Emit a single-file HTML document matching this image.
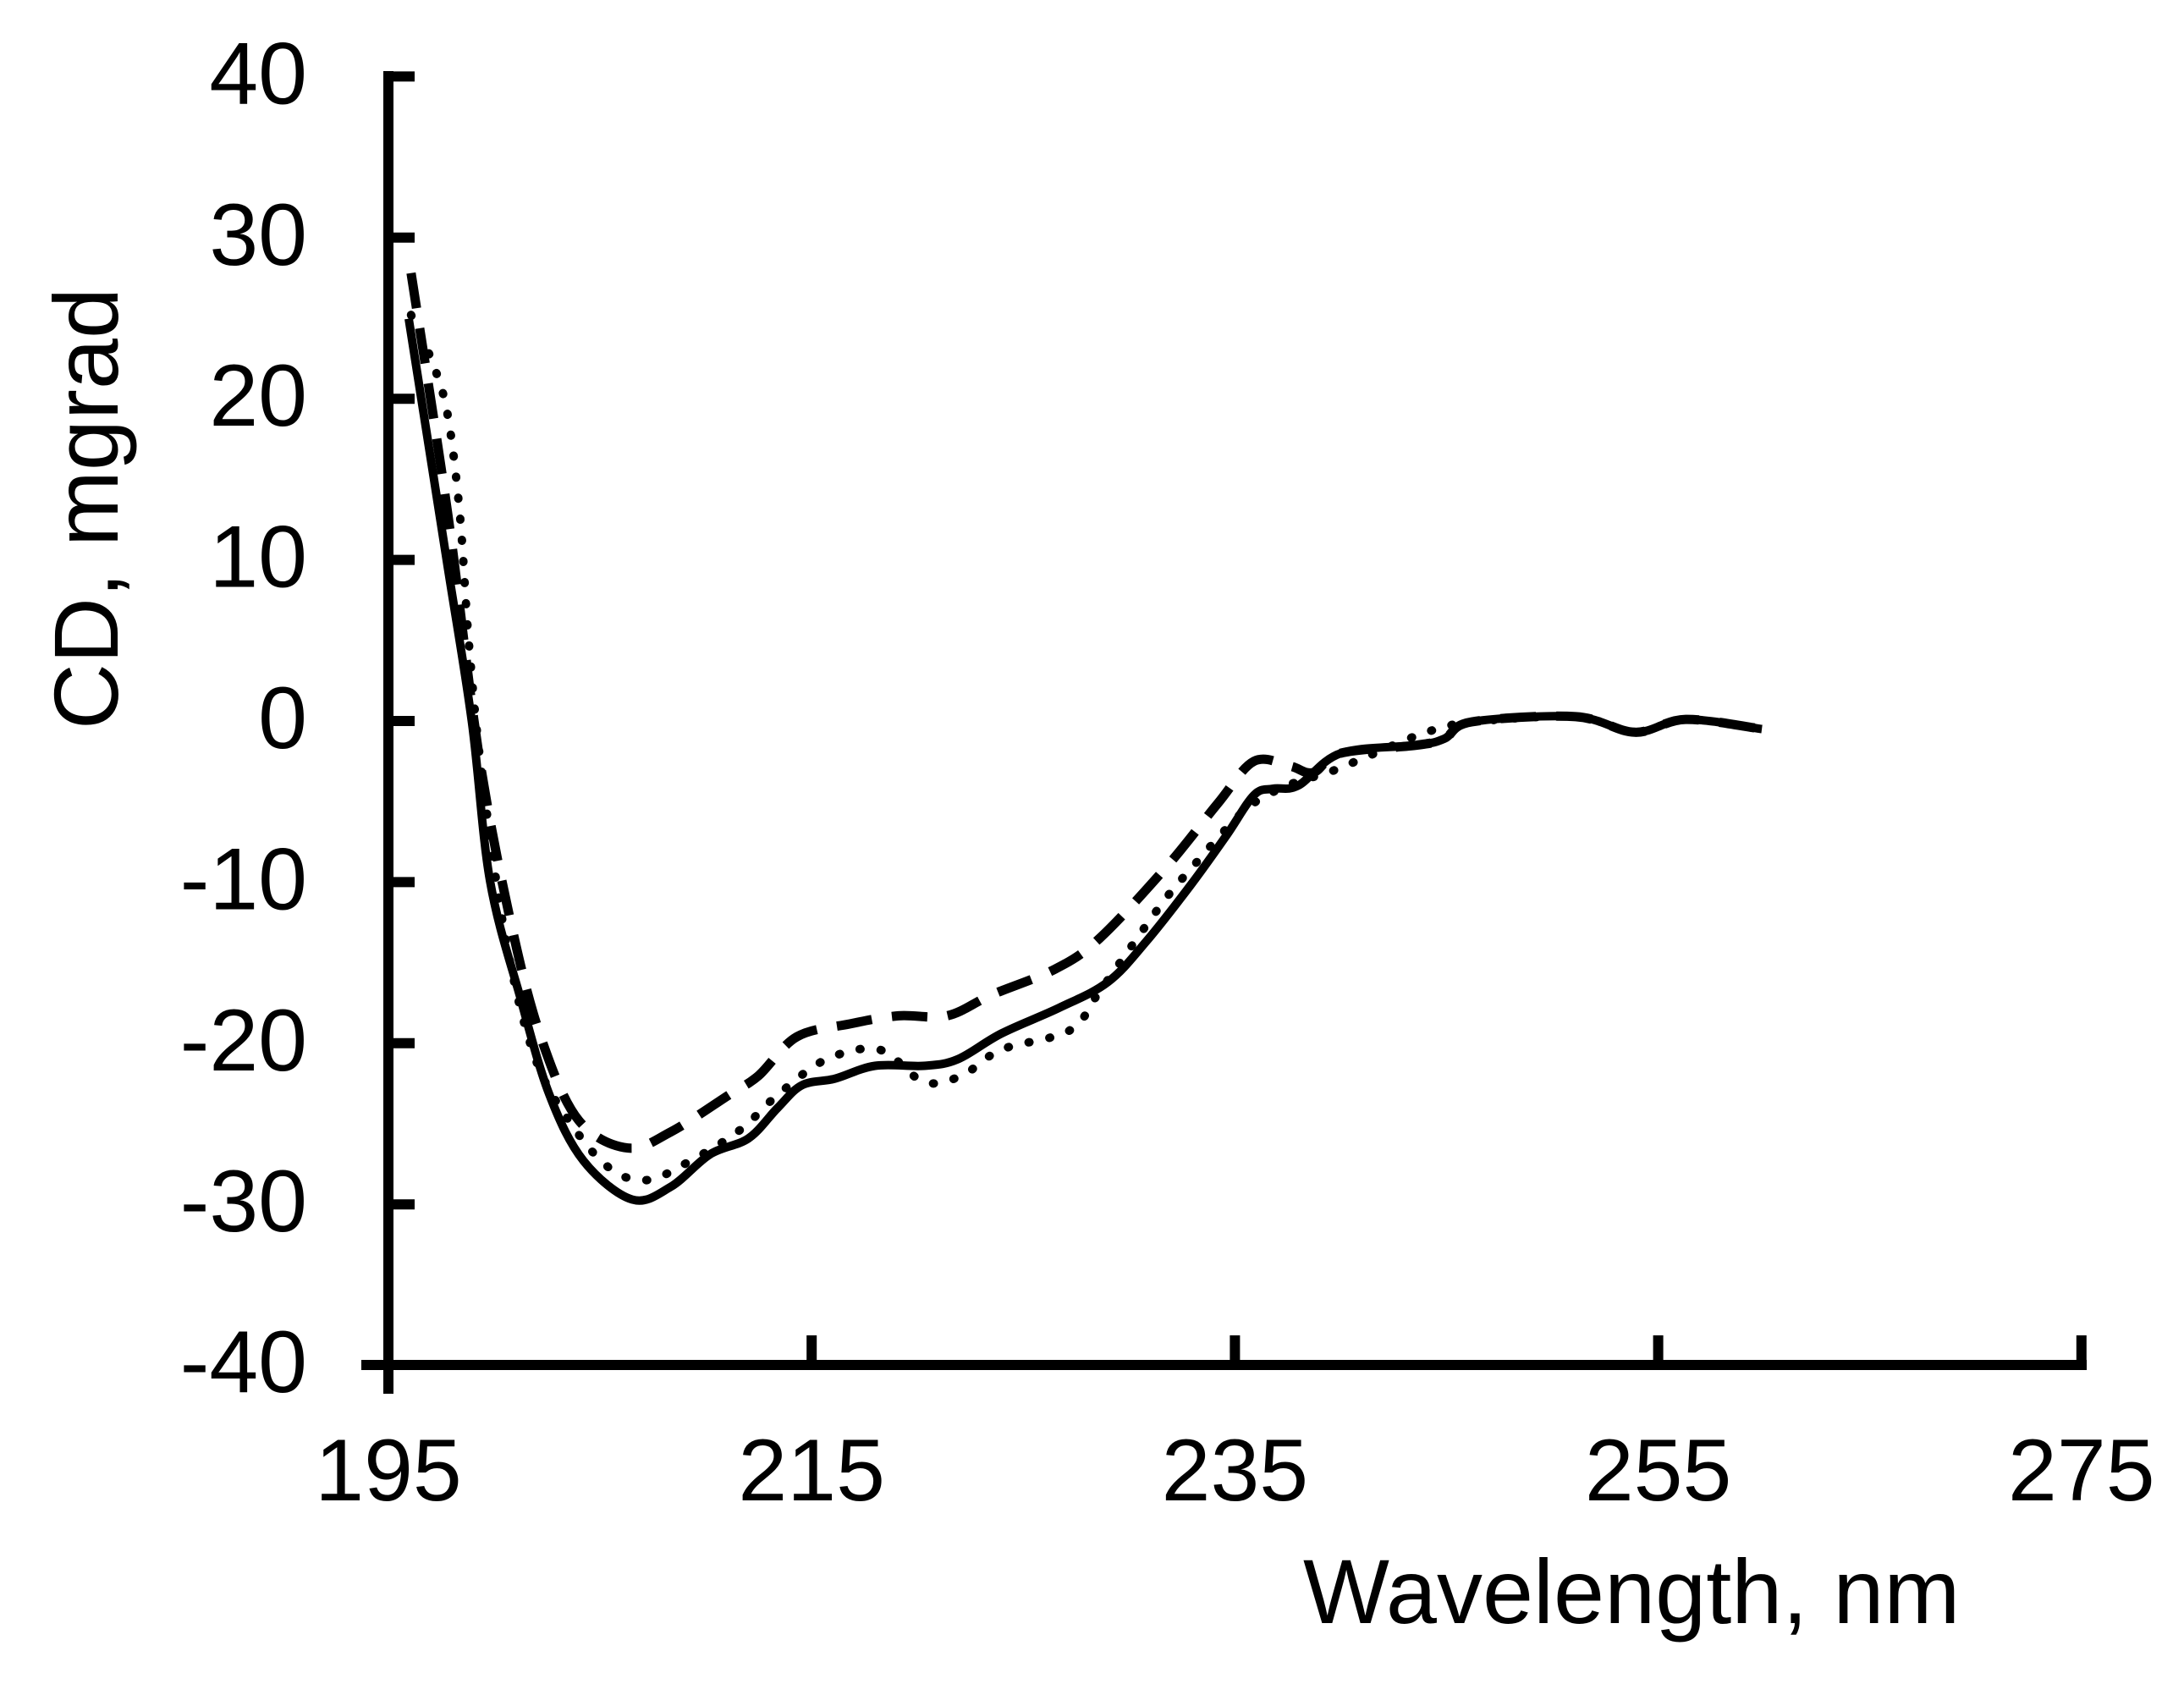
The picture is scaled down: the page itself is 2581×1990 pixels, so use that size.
<!DOCTYPE html>
<html><head><meta charset="utf-8"><style>
html,body{margin:0;padding:0;background:#fff;}
svg{display:block;}
text{font-family:"Liberation Sans",Arial,sans-serif;fill:#000;}
</style></head><body>
<svg id="chart" width="2581" height="1990" viewBox="0 0 2581 1990" xmlns="http://www.w3.org/2000/svg">
<rect width="2581" height="1990" fill="#fff"/>
<g id="axes"></g>
<g id="series"></g>
<text x="1540" y="1918" font-size="108">Wavelength, nm</text>
<text transform="translate(139,601) rotate(-90)" text-anchor="middle" font-size="108">CD, mgrad</text>
</svg>
<script>
const xTicks = [195, 215, 235, 255, 275];
const yTicks = [40, 30, 20, 10, 0, -10, -20, -30, -40];
const solidX = [195.96,197.75,198.94,199.8,201.24,202.61,204.22,206.52,208.35,210.19,212.02,213.4,214.55,216.1,217.99,220.3,221.9,223.96,226.7,229.0,230.8,232.9,234.6,235.9,236.8,238.0,240.0,243.6,244.9,246.2,251.1,253.9,256.3,259.9];
const solidY = [24.97,10.0,0,-9.9,-17.2,-23.2,-27.3,-29.7,-28.9,-26.9,-25.9,-24.0,-22.6,-22.2,-21.4,-21.4,-21.0,-19.4,-17.8,-16.2,-13.7,-10.2,-7.1,-4.6,-4.2,-4.0,-2.0,-1.5,-1.1,-0.05,0.27,-0.7,0.1,-0.5];
const dashX = [196.07,197.8,199.3,200.9,202.3,204.0,206.3,208.35,211.1,212.5,214.3,216.8,219.1,221.4,223.5,226.5,228.6,231.8,234.2,235.9,237.6,238.7,240.0,243.6,244.9,246.2,251.1,253.9,256.3,259.9];
const dashY = [27.8,12.9,-2.3,-13.2,-20.0,-24.8,-26.5,-25.5,-23.2,-22.0,-19.6,-18.8,-18.3,-18.3,-17.0,-15.4,-13.5,-9.0,-5.1,-2.5,-2.8,-3.2,-2.0,-1.5,-1.1,-0.05,0.27,-0.7,0.1,-0.5];
const dotX = [196.07,197.1,197.8,198.37,198.8,199.4,200.55,201.9,203.53,205.4,207.2,209.27,211.6,213.4,215.7,218.2,220.3,222.1,223.96,227.2,228.6,231.4,232.9,235.5,237.5,239.4,240.9,243.6,244.9,246.2,251.1,253.9,256.3,259.9];
const dotY = [25.2,22.2,19.0,12.9,4.9,-3.1,-13.6,-20.8,-24.8,-27.7,-28.5,-27.3,-25.4,-23.2,-21.0,-20.4,-22.4,-22.0,-20.4,-19.2,-16.8,-11.6,-9.2,-5.5,-4.0,-3.2,-2.4,-0.9,-0.4,-0.05,0.27,-0.7,0.1,-0.5];

const NS = "http://www.w3.org/2000/svg";
function sx(v){ return 459 + (v - 195) * 25.01; }
function sy(v){ return 852 - v * 19.04; }
function mk(tag, attrs, parent){
  const e = document.createElementNS(NS, tag);
  for (const k in attrs) e.setAttribute(k, attrs[k]);
  parent.appendChild(e);
  return e;
}
const axes = document.getElementById('axes');
const ser = document.getElementById('series');

const yAxis = mk('line', {x1:459, y1:84, x2:459, y2:1647, stroke:'#000', 'stroke-width':12}, axes);


const xAxis = mk('line', {x1:427, y1:1613, x2:2466, y2:1613, stroke:'#000', 'stroke-width':12}, axes);



yTicks.forEach(v => {
  const y = sy(v);
  if (v > -40) {
    const t = mk('line', {x1:453, y1:y, x2:490, y2:y, stroke:'#000', 'stroke-width':12}, axes);
    
    
  }
  const lb = mk('text', {x:363, y:Math.min(y, 1613) + 32, 'text-anchor':'end', 'font-size':104}, axes);
  lb.textContent = String(v);
  
  
});
xTicks.forEach(v => {
  const x = sx(v);
  if (v > 195) {
    const t = mk('line', {x1:x, y1:1578, x2:x, y2:1619, stroke:'#000', 'stroke-width':12}, axes);
    
    
  }
  const lb = mk('text', {x:x, y:1773, 'text-anchor':'middle', 'font-size':104}, axes);
  lb.textContent = String(v);
  
  
});

function smoothPath(xs, ys){
  const p = xs.map((x,i)=>[sx(x), sy(ys[i])]);
  let d = 'M' + p[0][0].toFixed(1) + ',' + p[0][1].toFixed(1);
  for (let i = 0; i < p.length - 1; i++){
    const p0 = p[Math.max(0,i-1)], p1 = p[i], p2 = p[i+1], p3 = p[Math.min(p.length-1,i+2)];
    const c1x = p1[0] + (p2[0]-p0[0])/6, c1y = p1[1] + (p2[1]-p0[1])/6;
    const c2x = p2[0] - (p3[0]-p1[0])/6, c2y = p2[1] - (p3[1]-p1[1])/6;
    d += ' C' + c1x.toFixed(1)+','+c1y.toFixed(1)+' '+c2x.toFixed(1)+','+c2y.toFixed(1)+' '+p2[0].toFixed(1)+','+p2[1].toFixed(1);
  }
  return d;
}

const dotted = mk('path', {d:smoothPath(dotX, dotY), fill:'none', stroke:'#000', 'stroke-width':10, 'stroke-linecap':'round', 'stroke-dasharray':'1 24'}, ser);


const dashed = mk('path', {d:smoothPath(dashX, dashY), fill:'none', stroke:'#000', 'stroke-width':11, 'stroke-dasharray':'42 24'}, ser);


const solid = mk('path', {d:smoothPath(solidX, solidY), fill:'none', stroke:'#000', 'stroke-width':10, 'stroke-linejoin':'round'}, ser);


</script>
</body></html>
